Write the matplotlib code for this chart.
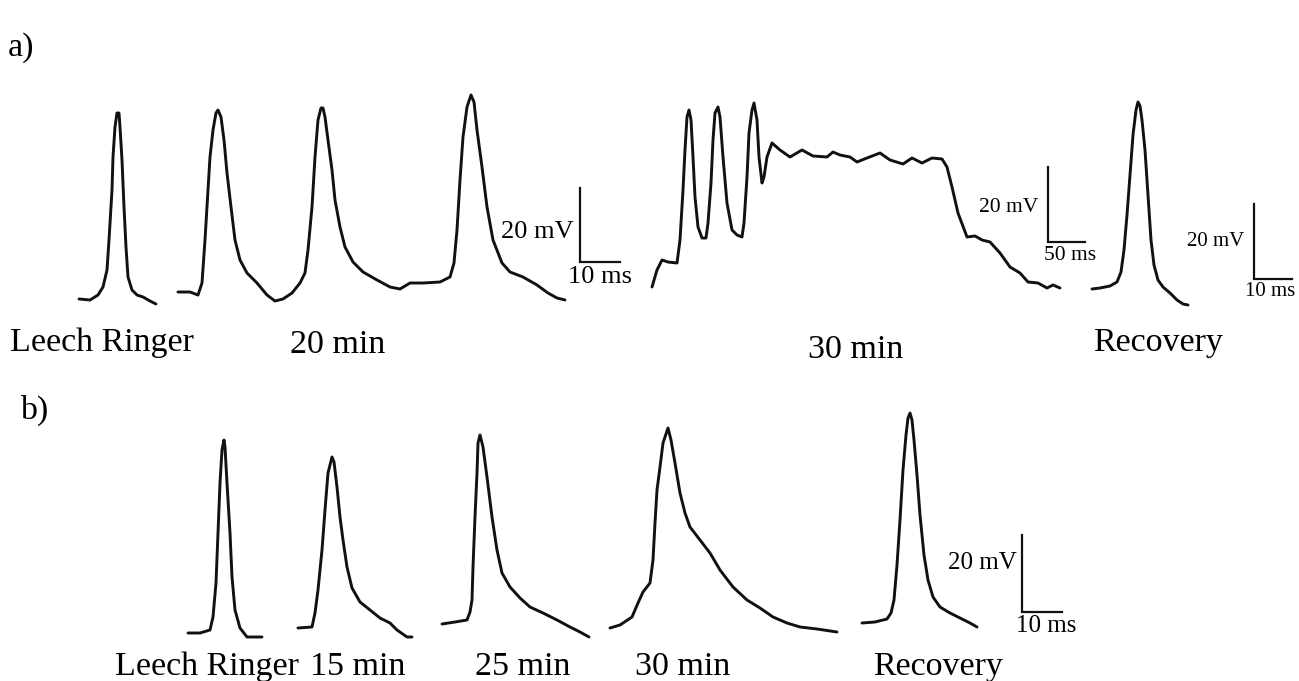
import matplotlib
matplotlib.use("Agg")
import matplotlib.pyplot as plt

# ---- traces (x: horizontal position, y: vertical position, figure units, y downward) ----
a_ringer_x = [79, 90, 98, 103, 107, 109, 112, 113, 115, 117, 119, 120, 122, 124, 126, 128, 132, 137, 143, 150, 156]
a_ringer_y = [299, 300, 295, 287, 270, 240, 190, 157, 127, 113, 113, 127, 160, 207, 247, 277, 290, 295, 297, 301, 304]

a_20min_x = [178, 190, 198, 202, 205, 208, 210, 213, 216, 218, 221, 224, 227, 231, 235, 240, 247, 257, 267,
             275, 283, 292, 300, 305, 308, 312, 315, 318, 321, 323,
             325, 328, 332, 335, 340, 345, 353, 363, 377, 390, 400, 410, 423, 440, 450, 454, 457, 460,
             463, 467, 471, 474, 477, 482, 487, 493, 502, 510, 523, 537, 548, 557, 565]
a_20min_y = [292, 292, 295, 283, 240, 190, 157, 130, 113, 110, 117, 140, 173, 207, 240, 260, 273, 283, 295,
             301, 299, 293, 283, 273, 250, 207, 157, 120, 108, 108,
             117, 140, 170, 200, 227, 247, 262, 272, 280, 287, 289, 283, 283, 282, 277, 263, 230, 180,
             137, 107, 95, 102, 130, 167, 207, 240, 263, 272, 277, 285, 293, 298, 300]

a_30min_x = [652, 657, 662, 668, 677, 680, 683, 685, 687, 689, 691, 693, 695, 698, 702, 706, 708, 711, 713,
             715, 718, 720, 723, 727, 732, 737, 742, 744, 747, 749, 752, 754, 757, 759, 762, 764, 767,
             772, 780, 790, 802, 813, 827, 833, 840, 850, 857, 867, 880, 890, 903, 912, 922, 932, 942,
             947, 952, 958, 967, 975, 982, 990, 1000, 1010, 1020, 1028, 1038, 1047, 1053, 1060]
a_30min_y = [287, 270, 260, 262, 263, 240, 190, 150, 117, 110, 120, 157, 197, 227, 238, 238, 223, 183, 140,
             113, 107, 117, 157, 203, 230, 235, 237, 223, 177, 133, 110, 103, 120, 157, 183, 177, 157,
             143, 150, 157, 150, 156, 157, 152, 155, 157, 162, 158, 153, 160, 164, 158, 163, 158, 159,
             167, 187, 213, 237, 236, 240, 242, 253, 267, 273, 282, 283, 288, 285, 288]

a_recov_x = [1092, 1100, 1110, 1117, 1121, 1124, 1127, 1130, 1133, 1136, 1138, 1140, 1142, 1145, 1148,
             1151, 1154, 1158, 1163, 1170, 1177, 1183, 1188]
a_recov_y = [289, 288, 286, 282, 272, 250, 215, 175, 135, 110, 102, 106, 120, 150, 195,
             240, 265, 280, 287, 293, 300, 304, 305]

b_ringer_x = [188, 200, 210, 213, 216, 218, 220, 222, 224, 225, 227, 230, 232, 235, 240, 247, 262]
b_ringer_y = [633, 633, 630, 617, 583, 533, 483, 450, 440, 447, 483, 533, 577, 610, 628, 637, 637]

b_15min_x = [298, 312, 315, 318, 322, 325, 328, 332, 334, 337, 340, 343, 347, 352, 360, 370, 380, 390,
             397, 407, 412]
b_15min_y = [628, 627, 613, 590, 550, 510, 473, 457, 462, 487, 517, 540, 567, 588, 602, 610, 618, 623,
             630, 637, 637]

b_25min_x = [442, 455, 467, 470, 472, 473, 475, 477, 478, 480, 483, 487, 492, 497, 502, 510, 520, 530,
             543, 557, 570, 580, 589]
b_25min_y = [624, 622, 620, 612, 600, 567, 517, 473, 443, 435, 447, 477, 517, 550, 573, 587, 598, 607,
             613, 620, 627, 632, 637]

b_30min_x = [610, 620, 632, 638, 643, 650, 653, 655, 657, 660, 663, 668, 671, 675, 680, 685, 690, 700,
             710, 720, 733, 747, 760, 773, 787, 800, 817, 837]
b_30min_y = [628, 625, 617, 603, 592, 583, 560, 523, 490, 467, 443, 428, 440, 463, 493, 513, 527, 540,
             553, 570, 587, 600, 608, 617, 623, 627, 629, 632]

b_recov_x = [862, 875, 887, 891, 894, 897, 900, 903, 906, 908, 910, 912, 914, 917, 920, 924, 928, 933,
             940, 950, 960, 970, 977]
b_recov_y = [623, 622, 619, 613, 600, 565, 520, 470, 435, 418, 413, 420, 440, 475, 515, 555, 580, 597,
             607, 613, 618, 623, 627]

traces = [(a_ringer_x, a_ringer_y), (a_20min_x, a_20min_y), (a_30min_x, a_30min_y),
          (a_recov_x, a_recov_y), (b_ringer_x, b_ringer_y), (b_15min_x, b_15min_y),
          (b_25min_x, b_25min_y), (b_30min_x, b_30min_y), (b_recov_x, b_recov_y)]

# ---- scale bars ----
scalebar_corner_x = [580, 1048, 1254, 1022]
scalebar_corner_y = [262, 242, 279, 612]
scalebar_top_y = [188, 167, 204, 535]
scalebar_right_x = [620, 1085, 1292, 1062]
scalebar_mv = ["20 mV", "20 mV", "20 mV", "20 mV"]
scalebar_ms = ["10 ms", "50 ms", "10 ms", "10 ms"]
scalebar_fs = [19, 15.5, 15, 18]
mv_label_right = [574, 1038, 1244, 1017]
mv_label_y = [232, 207, 242, 563]
ms_label_x = [600, 1070, 1270, 1046]
ms_label_y = [277, 255, 291, 626]

# ---- labels ----
label_text = ["a)", "Leech Ringer", "20 min", "30 min", "Recovery",
              "b)", "Leech Ringer", "15 min", "25 min", "30 min", "Recovery"]
label_x = [8, 10, 290, 808, 1093, 20, 115, 310, 475, 635, 873]
label_y = [48, 343, 345, 350, 343, 410, 667, 667, 667, 667, 667]

fig = plt.figure(figsize=(12.99, 6.81), dpi=100)
ax = fig.add_axes([0, 0, 1, 1])
ax.set_xlim(0, 1299)
ax.set_ylim(681, 0)
ax.axis("off")

serif = ["Liberation Serif", "DejaVu Serif"]

for xs, ys in traces:
    ax.plot(xs, ys, color="#111111", lw=2.1, solid_joinstyle="round", solid_capstyle="round")

for i in range(len(scalebar_mv)):
    cx, cy = scalebar_corner_x[i], scalebar_corner_y[i]
    ax.plot([cx, cx, scalebar_right_x[i]], [scalebar_top_y[i], cy, cy],
            color="#111111", lw=1.6, solid_joinstyle="miter")
    ax.text(mv_label_right[i], mv_label_y[i], scalebar_mv[i], ha="right", va="center",
            fontsize=scalebar_fs[i], family=serif)
    ax.text(ms_label_x[i], ms_label_y[i], scalebar_ms[i], ha="center", va="center",
            fontsize=scalebar_fs[i], family=serif)

for t, x, y in zip(label_text, label_x, label_y):
    ax.text(x, y, t, ha="left", va="center", fontsize=24.5, family=serif)

fig.savefig("out.png", dpi=100, facecolor="white")
